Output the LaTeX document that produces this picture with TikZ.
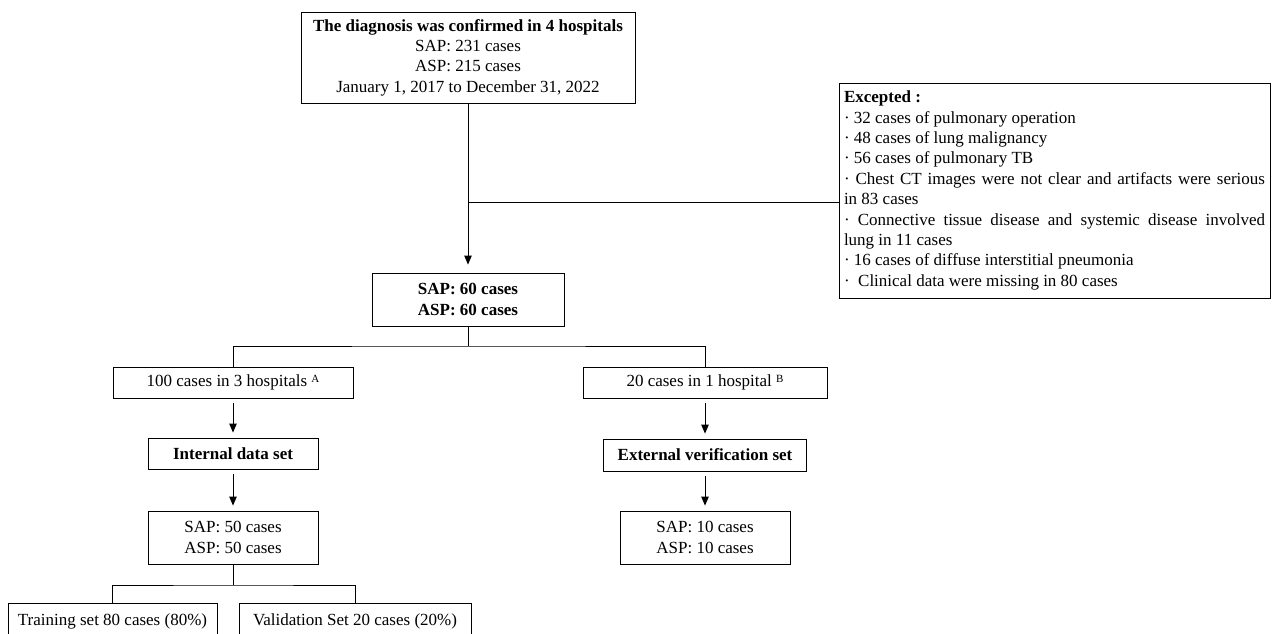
\documentclass[tikz,border=0pt]{standalone}
\usepackage{fontspec}
\setmainfont{Liberation Serif}
\usepackage{tikz}
\usetikzlibrary{positioning}
\usetikzlibrary{arrows.meta}

\begin{document}
\begin{tikzpicture}[x=1pt,y=-1pt,line width=0.9pt,
    every node/.style={font=\fontsize{17}{20.4}\selectfont},
    box/.style={draw,inner sep=0pt,align=center},
    arr/.style={-{Triangle[length=9pt,width=7.5pt]},shorten >=5pt,shorten <=5pt}]

  \useasboundingbox (0,0) rectangle (1272,634);

  % Draw boxes
  \node[box,minimum width=334pt,minimum height=91pt] (top) at (468,57.5)
    {\textbf{The diagnosis was confirmed in 4 hospitals}\\SAP: 231 cases\\ASP: 215 cases\\January 1, 2017 to December 31, 2022};
  \node[box,minimum width=431pt,minimum height=215pt,align=justify,text width=421pt,inner xsep=5pt] (excl) at (1054.5,190.5)
    {\textbf{Excepted :}\\
     \textperiodcentered\ 32 cases of pulmonary operation\\
     \textperiodcentered\ 48 cases of lung malignancy\\
     \textperiodcentered\ 56 cases of pulmonary TB\\
     \textperiodcentered\ Chest CT images were not clear and artifacts were serious\linebreak
     in 83 cases\\
     \textperiodcentered\ Connective tissue disease and systemic disease involved\linebreak
     lung in 11 cases\\
     \textperiodcentered\ 16 cases of diffuse interstitial pneumonia\\
     \textperiodcentered\ \ Clinical data were missing in 80 cases};
  \node[box,minimum width=192pt,minimum height=53pt] (sap60) at (468,299.5)
    {\textbf{SAP: 60 cases}\\\textbf{ASP: 60 cases}};

  % Left branch
  \node[box,minimum width=240pt,minimum height=31pt] (hosp3) at (233,382.5)
    {100 cases in 3 hospitals {\fontsize{11}{11}\selectfont\raisebox{4pt}{A}}};
  \node[box,minimum width=170pt,minimum height=31pt] (internal) at (233,453.5)
    {\textbf{Internal data set}};
  \node[box,minimum width=170pt,minimum height=53pt] (sap50) at (233,537.5)
    {SAP: 50 cases\\ASP: 50 cases};
  \node[box,minimum width=209pt,minimum height=36pt] (train) at (112.5,621)
    {Training set 80 cases (80\%)};
  \node[box,minimum width=232pt,minimum height=36pt] (valid) at (355,621)
    {Validation Set 20 cases (20\%)};

  % Right branch
  \node[box,minimum width=244pt,minimum height=31pt] (hosp1) at (705,382.5)
    {20 cases in 1 hospital {\fontsize{11}{11}\selectfont\raisebox{4pt}{B}}};
  \node[box,minimum width=203pt,minimum height=32pt] (external) at (705,455)
    {\textbf{External verification set}};
  \node[box,minimum width=170pt,minimum height=53pt] (sap10) at (705,537.5)
    {SAP: 10 cases\\ASP: 10 cases};

  % Draw connectors
  \coordinate (jn) at (468,202);
  \coordinate (br1) at (468,346);
  \coordinate (br2) at (233,585);
  \draw[arr,shorten <=0pt,shorten >=8pt] (top.south) -- (sap60.north);
  \draw (jn) -- (jn -| excl.west);
  \draw (sap60.south) -- (br1);
  \draw (hosp3.north) |- (br1) -| (hosp1.north);
  \draw[arr] (hosp3) -- (internal);
  \draw[arr] (internal) -- (sap50);
  \draw[arr] (hosp1) -- (external);
  \draw[arr] (external) -- (sap10);
  \draw (sap50.south) -- (br2);
  \draw (train.north) |- (br2) -| (valid.north);

\end{tikzpicture}
\end{document}
